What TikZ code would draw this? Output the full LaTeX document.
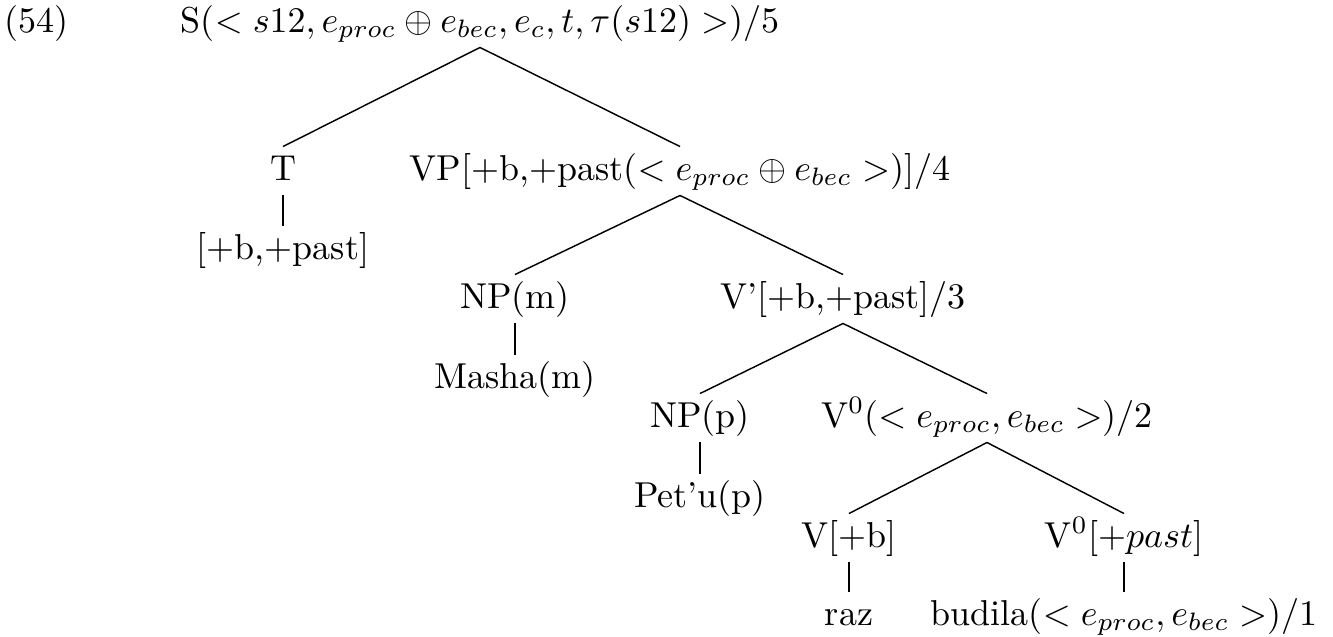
\documentclass[tikz,border=0pt]{standalone}
\usepackage{tikz}
\usetikzlibrary{calc}

\begin{document}
\begin{tikzpicture}[x=0.2778pt, y=-0.2778pt,
        lbl/.style={draw=none, anchor=base, inner xsep=0pt, inner ysep=1.6pt, text height=7.5pt, text depth=2.5pt},
        branch/.style={line width=0.4pt}]

                \coordinate (A) at (0, 0);
                \useasboundingbox ($ (A) + (0, 0) $) rectangle ++(1333, 637);

                % example number
                \node[lbl, anchor=base west] (num) at ($ (A) + (4, 32) $) {(54)};

                % root
                \node[lbl] (S) at ($ (A) + (480, 32) $) {S($< s12, e_{proc} \oplus e_{bec}, e_c, t, \tau(s12) >$)/5};

                % tense and verb phrase
                \node[lbl] (T) at ($ (A) + (283, 180) $) {T};
                \node[lbl] (Tfeat) at ($ (A) + (283, 259) $) {[+b,+past]};
                \node[lbl] (VP) at ($ (A) + (680, 180) $) {VP[+b,+past($< e_{proc} \oplus e_{bec} >$)]/4};

                % subject and V'
                \node[lbl] (NPm) at ($ (A) + (515, 308) $) {NP(m)};
                \node[lbl] (Masha) at ($ (A) + (515, 388) $) {Masha(m)};
                \node[lbl] (Vbar) at ($ (A) + (843, 308) $) {V'[+b,+past]/3};

                % object and V0
                \node[lbl] (NPp) at ($ (A) + (700, 427) $) {NP(p)};
                \node[lbl] (Petu) at ($ (A) + (700, 507) $) {Pet'u(p)};
                \node[lbl] (V0) at ($ (A) + (987, 427) $) {V$^0$($< e_{proc}, e_{bec} >$)/2};

                % prefix and stem
                \node[lbl] (Vb) at ($ (A) + (849, 547) $) {V[+b]};
                \node[lbl] (raz) at ($ (A) + (849, 625) $) {raz};
                \node[lbl] (V0past) at ($ (A) + (1124, 547) $) {V$^0$[+$past$]};
                \node[lbl] (budila) at ($ (A) + (1124, 625) $) {budila($< e_{proc}, e_{bec} >$)/1};

                % branches
                \draw[branch] (S.south) -- (T.north);
                \draw[branch] (S.south) -- (VP.north);
                \draw[branch] (T.south) -- (Tfeat.north);
                \draw[branch] (VP.south) -- (NPm.north);
                \draw[branch] (VP.south) -- (Vbar.north);
                \draw[branch] (NPm.south) -- (Masha.north);
                \draw[branch] (Vbar.south) -- (NPp.north);
                \draw[branch] (Vbar.south) -- (V0.north);
                \draw[branch] (NPp.south) -- (Petu.north);
                \draw[branch] (V0.south) -- (Vb.north);
                \draw[branch] (V0.south) -- (V0past.north);
                \draw[branch] (Vb.south) -- (raz.north);
                \draw[branch] (V0past.south) -- (budila.north);

            \end{tikzpicture}
\end{document}
